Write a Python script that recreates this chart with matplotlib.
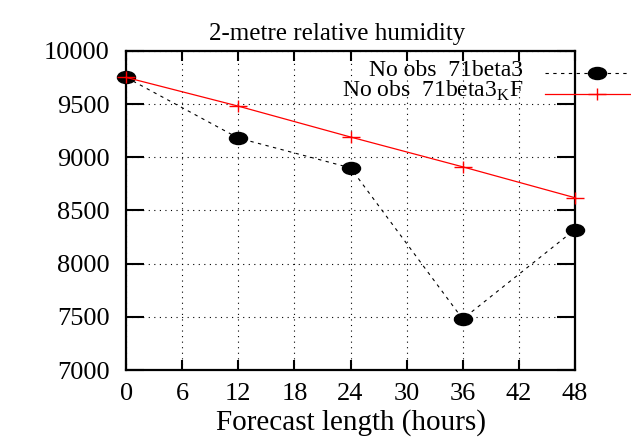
import matplotlib.pyplot as plt
from matplotlib.path import Path
from matplotlib.lines import Line2D

# forecast length (hours) and scores for the two experiments
hours = [0, 12, 24, 36, 48]
beta3 = [9750, 9180, 8900, 7480, 8320]
beta3_kf = [9750, 9480, 9190, 8910, 8620]

labels = ['No obs  71beta3', r'No obs  71beta3$_{\rm K}$F']
x_ticks = [0, 6, 12, 18, 24, 30, 36, 42, 48]
y_ticks = [7000, 7500, 8000, 8500, 9000, 9500, 10000]

plt.rcParams['font.family'] = ['Liberation Serif', 'DejaVu Serif']
plt.rcParams['mathtext.fontset'] = 'custom'
plt.rcParams['mathtext.rm'] = 'Liberation Serif'

# gnuplot-ish markers: a flattened dot and a wide plus
circ = Path.unit_circle()
blob = Path(circ.vertices * [1.5, 1.0], circ.codes)
plus = Path([(-1.5, 0), (1.5, 0), (0, -1), (0, 1)],
            [Path.MOVETO, Path.LINETO, Path.MOVETO, Path.LINETO])

black_style = dict(color='black', ls=(0, (3, 4)), lw=0.8,
                   marker=blob, ms=13, mfc='black', mec='black')
red_style = dict(color='red', ls='-', lw=0.9, marker=plus, ms=13, mew=1.0)

fig = plt.figure(figsize=(6.31, 4.38), dpi=100)
ax = fig.add_axes([0.2, 0.155, 0.711, 0.729])

ax.plot(hours, beta3, clip_on=False, zorder=3, **black_style)
ax.plot(hours, beta3_kf, clip_on=False, zorder=4, **red_style)

ax.set_xlim(0, 48)
ax.set_ylim(7000, 10000)
ax.set_xticks(x_ticks)
ax.set_yticks(y_ticks)
ax.tick_params(direction='in', width=1.5, top=True, right=True, labelsize=19)
ax.tick_params(axis='x', length=7, pad=9)
ax.tick_params(axis='y', length=13, pad=12)
ax.grid(True, color='black', ls=(0, (1, 4)), lw=0.8)
for s in ax.spines.values():
    s.set_linewidth(1.6)

ax.set_title('2-metre relative humidity', fontsize=18, pad=8, x=0.47)
ax.set_xlabel('Forecast length (hours)', fontsize=21, labelpad=3)

# key drawn gnuplot style: right-aligned text, sample running past the frame
row_y = [0.833, 0.786]
fig.text(0.829, row_y[0] + 0.03, '\n'.join(labels), fontsize=17,
         ha='right', va='top', multialignment='right', linespacing=0.9)
for y, style in zip(row_y, [black_style, red_style]):
    fig.add_artist(Line2D([0.864, 0.998], [y, y], transform=fig.transFigure,
                          **{k: v for k, v in style.items() if k != 'marker'}))
    fig.add_artist(Line2D([0.946], [y], transform=fig.transFigure, **style))

fig.savefig('out.png', dpi=100)
